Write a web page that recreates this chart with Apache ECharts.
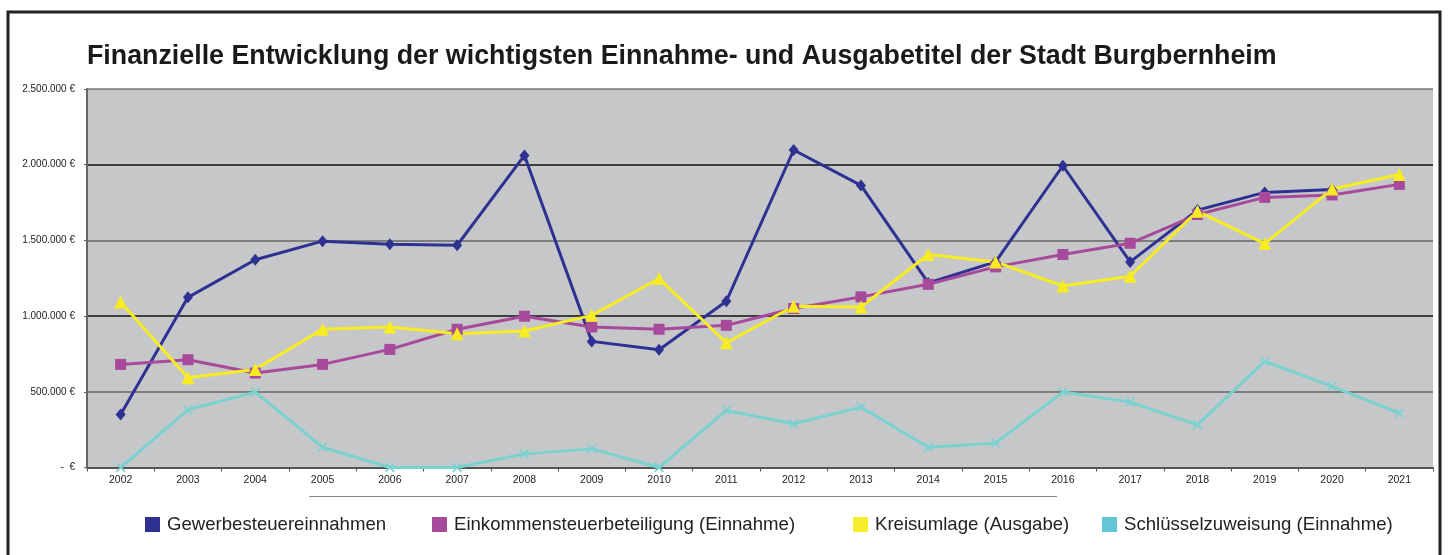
<!DOCTYPE html>
<html>
<head>
<meta charset="utf-8">
<script src="https://cdn.jsdelivr.net/npm/echarts@6/dist/echarts.min.js"></script>
<style>
html,body{margin:0;padding:0;background:#fff;}
#chart{width:1449px;height:555px;}
</style>
</head>
<body>
<div id="chart"></div>
<script>
var years = ['2002','2003','2004','2005','2006','2007','2008','2009','2010','2011','2012','2013','2014','2015','2016','2017','2018','2019','2020','2021'];
var gewerbesteuer = [350000,1124000,1372000,1495000,1475000,1468000,2061000,833000,778000,1098000,2097000,1863000,1219000,1358000,1993000,1358000,1700000,1817000,1837000,null];
var einkommensteuer = [681000,712000,624000,681000,780000,913000,999000,928000,913000,939000,1050000,1127000,1210000,1325000,1407000,1481000,1671000,1784000,1800000,1870000];
var kreisumlage = [1093000,593000,648000,913000,928000,884000,902000,1005000,1248000,824000,1065000,1060000,1407000,1358000,1199000,1263000,1693000,1479000,1839000,1935000];
var schluessel = [0,381000,498000,134000,0,0,90000,123000,0,377000,289000,399000,134000,161000,498000,432000,282000,701000,536000,359000];
var names = ['Gewerbesteuereinnahmen','Einkommensteuerbeteiligung (Einnahme)','Kreisumlage (Ausgabe)','Schlüsselzuweisung (Einnahme)'];
var yTicks = [0,500000,1000000,1500000,2000000,2500000];

var FONT = '"Liberation Sans", Arial, Helvetica, sans-serif';
var chart = echarts.init(document.getElementById('chart'));

function fmt(v){
  if (v === 0) return '-  €';
  return String(v).replace(/\B(?=(\d{3})+(?!\d))/g, '.') + ' €';
}
var crossPath = 'path://M0,1.2 L1.2,0 L5,3.8 L8.8,0 L10,1.2 L6.2,5 L10,8.8 L8.8,10 L5,6.2 L1.2,10 L0,8.8 L3.8,5 Z';

var legendLefts = [145, 432, 853, 1102];
var legendColors = ['#2e3192','#a84a9c','#f6ec2b','#62c6d6'];
var legends = names.map(function(n, i){
  return {
    left: legendLefts[i], top: 515, padding: 0,
    itemWidth: 15, itemHeight: 15,
    icon: 'rect',
    data: [{name: n, icon: 'rect', itemStyle: {color: legendColors[i], borderWidth: 0}}],
    textStyle: {fontFamily: FONT, fontSize: 18.6, color: '#222', padding: [0,0,0,2]},
    selectedMode: false
  };
});

var option = {
  animation: false,
  backgroundColor: '#fff',
  textStyle: {fontFamily: FONT},
  title: {
    text: 'Finanzielle Entwicklung der wichtigsten Einnahme- und Ausgabetitel der Stadt Burgbernheim',
    left: 87, top: 43, padding: 0,
    textStyle: {fontFamily: FONT, fontSize: 26.8, fontWeight: 'bold', color: '#1a1a1a'}
  },
  legend: legends,
  grid: {left: 87, right: 16, top: 89, bottom: 87.5, show: true, backgroundColor: '#c6c7c9', borderWidth: 0},
  xAxis: {
    type: 'category',
    data: years,
    boundaryGap: true,
    axisLine: {lineStyle: {color: '#555', width: 2}},
    axisTick: {show: true, length: 4, lineStyle: {color: '#555', width: 1}},
    axisLabel: {fontFamily: FONT, fontSize: 10.5, color: '#222', margin: 7}
  },
  yAxis: {
    type: 'value',
    min: 0, max: 2500000, interval: 500000,
    axisLine: {show: true, lineStyle: {color: '#666', width: 2}},
    axisTick: {show: true, length: 3, lineStyle: {color: '#666'}},
    axisLabel: {fontFamily: FONT, fontSize: 10, color: '#222', margin: 12, formatter: fmt},
    splitLine: {show: true, lineStyle: {color: ['#666','#666','#111','#666','#111','#777'], width: 1.5}}
  },
  graphic: [
    {type: 'line', shape: {x1: 309, y1: 496.5, x2: 1057, y2: 496.5}, style: {stroke: '#8a8a8a', lineWidth: 1}},
    {type: 'rect', shape: {x: 8, y: 12, width: 1432, height: 560}, style: {fill: 'none', stroke: '#222', lineWidth: 3}, z: 100}
  ],
  series: [
    {name: names[0], type: 'line', data: gewerbesteuer, symbol: 'diamond', symbolSize: [10,12],
     lineStyle: {color: '#2e3192', width: 3}, itemStyle: {color: '#2e3192'}},
    {name: names[1], type: 'line', data: einkommensteuer, symbol: 'rect', symbolSize: 11,
     lineStyle: {color: '#a84a9c', width: 3}, itemStyle: {color: '#a84a9c'}},
    {name: names[2], type: 'line', data: kreisumlage, symbol: 'triangle', symbolSize: 13,
     lineStyle: {color: '#f7ec22', width: 3}, itemStyle: {color: '#f7ec22'}},
    {name: names[3], type: 'line', data: schluessel, symbol: crossPath, symbolSize: 10,
     lineStyle: {color: '#7ad2d0', width: 3}, itemStyle: {color: '#7ad2d0'}}
  ]
};
chart.setOption(option);
</script>
</body>
</html>
